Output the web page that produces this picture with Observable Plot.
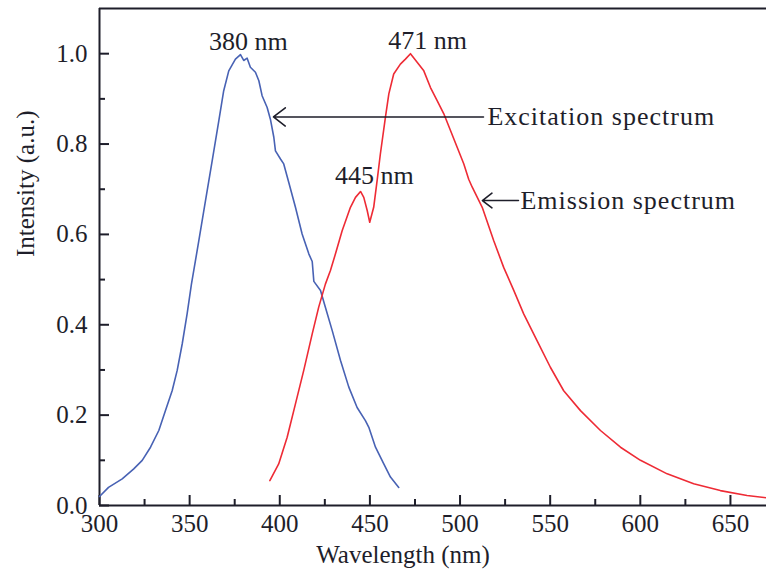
<!DOCTYPE html>
<html><head><meta charset="utf-8">
<script src="https://cdn.jsdelivr.net/npm/d3@7"></script>
<script src="https://cdn.jsdelivr.net/npm/@observablehq/plot@0.6"></script>
<style>body{margin:0;background:#fff;}</style>
</head><body><div id="chart"></div>
<script>
// Excitation spectrum (blue)
const excWavelength = [300, 305, 312.6, 319, 323.7, 328.3, 332.9, 336.6, 340.3, 343.1, 345.9, 348.6, 351, 355.1, 358.8, 362.5, 366.2, 368.9, 371.7, 375.4, 378.2, 380, 381.9, 383.7, 386.5, 388.4, 390.2, 393, 394.8, 396.7, 397.6, 400.4, 402.2, 405, 408.7, 412.4, 416.1, 418, 418.9, 422.6, 425.3, 429.1, 433.7, 438.3, 442.9, 447.5, 449.4, 453.1, 457.7, 461.4, 466];
const excIntensity = [0.02, 0.04, 0.059, 0.081, 0.10, 0.129, 0.166, 0.21, 0.254, 0.299, 0.358, 0.424, 0.49, 0.586, 0.675, 0.763, 0.852, 0.918, 0.962, 0.988, 0.998, 0.985, 0.99, 0.97, 0.959, 0.94, 0.907, 0.881, 0.855, 0.815, 0.785, 0.767, 0.756, 0.715, 0.66, 0.601, 0.557, 0.54, 0.496, 0.476, 0.439, 0.387, 0.321, 0.262, 0.217, 0.188, 0.173, 0.129, 0.092, 0.063, 0.040];
// Emission spectrum (red)
const emWavelength = [394.5, 399.4, 404.1, 408.7, 413.3, 418, 421.6, 425.3, 428.1, 430.9, 434.6, 439.2, 442, 444.8, 446.6, 448.5, 449.9, 452.1, 454, 455.8, 458.6, 460.5, 463.2, 466.9, 469.7, 472.5, 476.2, 479.9, 483.6, 487.3, 491, 494.7, 498.4, 502.1, 504.8, 506.7, 512.3, 518.7, 524.2, 529.8, 535.3, 542.7, 550.1, 557.5, 566.8, 577.9, 589, 600.1, 614.9, 629.6, 644.4, 659.2, 670];
const emIntensity = [0.055, 0.092, 0.151, 0.225, 0.299, 0.38, 0.439, 0.49, 0.52, 0.557, 0.608, 0.66, 0.682, 0.695, 0.682, 0.653, 0.627, 0.66, 0.719, 0.778, 0.859, 0.911, 0.955, 0.977, 0.988, 1.0, 0.981, 0.962, 0.925, 0.896, 0.867, 0.83, 0.793, 0.756, 0.722, 0.705, 0.66, 0.586, 0.527, 0.476, 0.424, 0.365, 0.306, 0.254, 0.21, 0.166, 0.129, 0.10, 0.070, 0.048, 0.033, 0.022, 0.017];

// Ticks
const xMajorTicks = [300, 350, 400, 450, 500, 550, 600, 650];
const xMinorTicks = [325, 375, 425, 475, 525, 575, 625];
const yMajorTicks = [0, 0.2, 0.4, 0.6, 0.8, 1.0];
const yMinorTicks = [0.1, 0.3, 0.5, 0.7, 0.9];

// Annotations
const peakLabelText = ["380 nm", "471 nm", "445 nm"];
const peakLabelX = [382.6, 482, 452.5];
const peakLabelY = [1.027, 1.029, 0.73];
const arrowNames = ["Excitation spectrum", "Emission spectrum"];
const arrowTailX = [513, 532.4];
const arrowTipX = [396.5, 512.4];
const arrowY = [0.86, 0.675];
const arrowTextX = [515.2, 533.5];

const exc = excWavelength.map((x, i) => ({x, y: excIntensity[i]}));
const em = emWavelength.map((x, i) => ({x, y: emIntensity[i]}));
const peaks = peakLabelText.map((t, i) => ({t, x: peakLabelX[i], y: peakLabelY[i]}));
const arrows = arrowNames.map((t, i) => ({t, x1: arrowTailX[i], x2: arrowTipX[i], y: arrowY[i], tx: arrowTextX[i]}));

const W = 766, H = 580, mL = 99, mR = 0, mT = 8, mB = 75;
const fw = W - mL - mR, fh = H - mT - mB;
const ink = "#1e1e2a";
const font = "'Liberation Serif', 'Times New Roman', serif";

const chart = Plot.plot({
  width: W, height: H,
  marginLeft: mL, marginRight: mR, marginTop: mT, marginBottom: mB,
  style: {fontFamily: font, fontSize: "25px", color: ink, background: "#fff", overflow: "visible"},
  x: {domain: [300, 670]},
  y: {domain: [0, 1.1]},
  marks: [
    Plot.axisX(xMajorTicks, {tickSize: 0, tickPadding: 9, label: null, fontSize: 25, fill: ink}),
    Plot.axisY(yMajorTicks, {tickSize: 0, tickPadding: 12, label: null, fontSize: 25, fill: ink, tickFormat: d3.format(".1f")}),
    Plot.tickX(xMajorTicks, {x: d => d, insetTop: fh - 10, stroke: ink, strokeWidth: 2}),
    Plot.tickX(xMinorTicks, {x: d => d, insetTop: fh - 6, stroke: ink, strokeWidth: 2}),
    Plot.tickY(yMajorTicks, {y: d => d, insetRight: fw - 10, stroke: ink, strokeWidth: 2}),
    Plot.tickY(yMinorTicks, {y: d => d, insetRight: fw - 6, stroke: ink, strokeWidth: 2}),
    Plot.ruleX([300], {stroke: ink, strokeWidth: 2}),
    Plot.ruleY([0], {stroke: ink, strokeWidth: 2}),
    Plot.ruleY([1.1], {stroke: ink, strokeWidth: 2}),
    Plot.line(exc, {x: "x", y: "y", stroke: "#4862b4", strokeWidth: 1.6}),
    Plot.line(em, {x: "x", y: "y", stroke: "#ee2b35", strokeWidth: 1.6}),
    Plot.text(peaks, {x: "x", y: "y", text: "t", fontSize: 26, fill: ink}),
    Plot.arrow(arrows, {x1: "x1", x2: "x2", y1: "y", y2: "y", stroke: ink, strokeWidth: 1.6, headLength: 14, headAngle: 75}),
    Plot.text(arrows, {x: "tx", y: "y", text: "t", textAnchor: "start", fontSize: 26, fill: ink}),
    Plot.text(["Wavelength (nm)"], {frameAnchor: "bottom", dx: -30, dy: 57, fontSize: 25, fill: ink}),
    Plot.text(["Intensity (a.u.)"], {frameAnchor: "left", dx: -74, rotate: -90, fontSize: 25, fill: ink})
  ]
});
d3.select(chart).selectAll("text")
  .filter(function () { return arrowNames.includes(this.textContent); })
  .style("letter-spacing", "1px");
document.getElementById("chart").appendChild(chart);
</script>
</body></html>
